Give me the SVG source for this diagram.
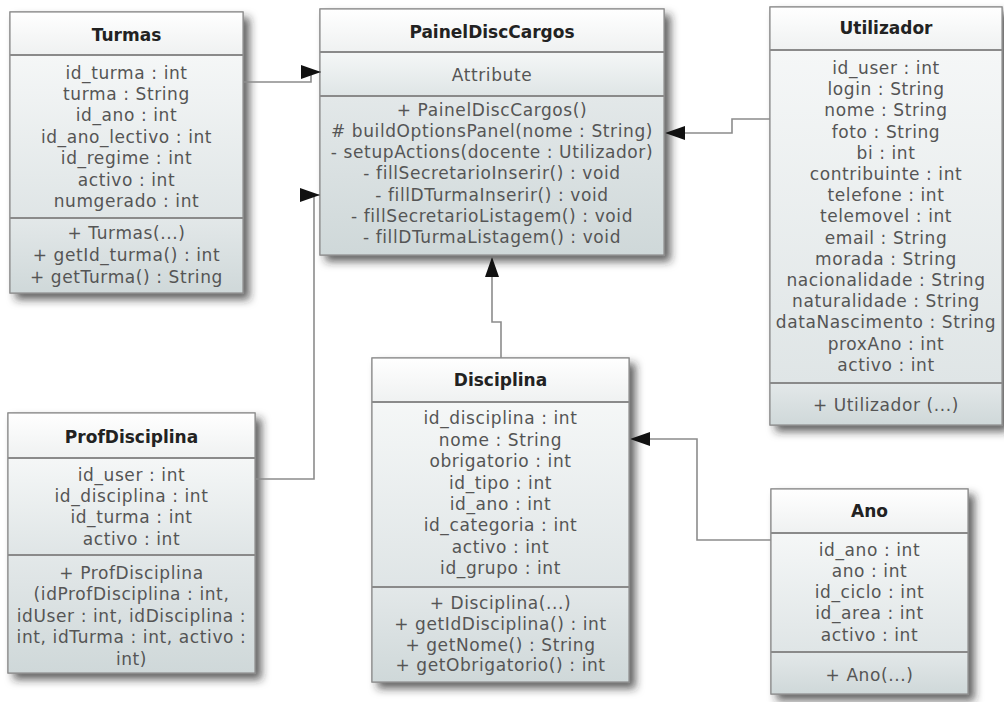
<svg xmlns="http://www.w3.org/2000/svg" width="1004" height="702" viewBox="0 0 1004 702">
  <defs>
    <linearGradient id="gHdr" x1="0" y1="0" x2="0" y2="1">
      <stop offset="0" stop-color="#ffffff"/>
      <stop offset="1" stop-color="#eff1f1"/>
    </linearGradient>
    <linearGradient id="gAttr" x1="0" y1="0" x2="0" y2="1">
      <stop offset="0" stop-color="#f5f7f7"/>
      <stop offset="1" stop-color="#dfe5e6"/>
    </linearGradient>
    <linearGradient id="gOps" x1="0" y1="0" x2="0" y2="1">
      <stop offset="0" stop-color="#e3e8e9"/>
      <stop offset="1" stop-color="#cfd8d9"/>
    </linearGradient>
    <filter id="shadow" x="-10%" y="-10%" width="130%" height="130%">
      <feDropShadow dx="6" dy="6" stdDeviation="4" flood-color="#222" flood-opacity="0.7"/>
    </filter>
    <marker id="arrow" viewBox="0 0 20 14" refX="20" refY="7" markerWidth="20" markerHeight="14" markerUnits="userSpaceOnUse" orient="auto">
      <path d="M0,0 L20,7 L0,14 z" fill="#111"/>
    </marker>
  </defs>
  <style>
    .frame { fill: #ffffff; stroke: #8c8c8c; stroke-width: 1.2; filter: url(#shadow); }
    .hdr { fill: url(#gHdr); }
    .attr { fill: url(#gAttr); }
    .ops { fill: url(#gOps); }
    .edge { fill: none; stroke: #8c8c8c; stroke-width: 1.2; }
    .div { stroke: #8a8a8a; stroke-width: 1.8; }
    .title { font-family: "DejaVu Sans", Verdana, sans-serif; font-weight: bold; font-size: 17px; fill: #222; text-anchor: middle; }
    .mem { font-family: "DejaVu Sans", Verdana, sans-serif; font-size: 17px; fill: #555; text-anchor: middle; letter-spacing: 0.6px; }
    .conn { fill: none; stroke: #8c8c8c; stroke-width: 1.6; marker-end: url(#arrow); }
  </style>
  <rect width="1004" height="702" fill="#ffffff"/>

  <!-- Turmas -->
  <g id="turmas">
    <rect class="frame" x="10" y="12" width="233" height="281"/>
    <rect class="hdr" x="10" y="12" width="233" height="43"/>
    <rect class="attr" x="10" y="55" width="233" height="163"/>
    <rect class="ops" x="10" y="218" width="233" height="75"/>
    <line class="div" x1="10" y1="55" x2="243" y2="55"/>
    <line class="div" x1="10" y1="218" x2="243" y2="218"/>
    <rect class="edge" x="10" y="12" width="233" height="281"/>
    <text class="title" x="126.5" y="41">Turmas</text>
    <text class="mem" x="126.5" y="79">id_turma : int</text>
    <text class="mem" x="126.5" y="100">turma : String</text>
    <text class="mem" x="126.5" y="121">id_ano : int</text>
    <text class="mem" x="126.5" y="143">id_ano_lectivo : int</text>
    <text class="mem" x="126.5" y="164">id_regime : int</text>
    <text class="mem" x="126.5" y="186">activo : int</text>
    <text class="mem" x="126.5" y="207">numgerado : int</text>
    <text class="mem" x="126.5" y="239">+ Turmas(...)</text>
    <text class="mem" x="126.5" y="261">+ getId_turma() : int</text>
    <text class="mem" x="126.5" y="283">+ getTurma() : String</text>
  </g>

  <!-- PainelDiscCargos -->
  <g id="painelDiscCargos">
    <rect class="frame" x="320" y="9" width="344" height="246"/>
    <rect class="hdr" x="320" y="9" width="344" height="43"/>
    <rect class="attr" x="320" y="52" width="344" height="44"/>
    <rect class="ops" x="320" y="96" width="344" height="159"/>
    <line class="div" x1="320" y1="52" x2="664" y2="52"/>
    <line class="div" x1="320" y1="96" x2="664" y2="96"/>
    <rect class="edge" x="320" y="9" width="344" height="246"/>
    <text class="title" x="492" y="38">PainelDiscCargos</text>
    <text class="mem" x="492" y="81">Attribute</text>
    <text class="mem" x="492" y="116">+ PainelDiscCargos()</text>
    <text class="mem" x="492" y="137"># buildOptionsPanel(nome : String)</text>
    <text class="mem" x="492" y="158">- setupActions(docente : Utilizador)</text>
    <text class="mem" x="492" y="179">- fillSecretarioInserir() : void</text>
    <text class="mem" x="492" y="201">- fillDTurmaInserir() : void</text>
    <text class="mem" x="492" y="222">- fillSecretarioListagem() : void</text>
    <text class="mem" x="492" y="243">- fillDTurmaListagem() : void</text>
  </g>

  <!-- Utilizador -->
  <g id="utilizador">
    <rect class="frame" x="770" y="7" width="232" height="418"/>
    <rect class="hdr" x="770" y="7" width="232" height="43"/>
    <rect class="attr" x="770" y="50" width="232" height="333"/>
    <rect class="ops" x="770" y="383" width="232" height="42"/>
    <line class="div" x1="770" y1="50" x2="1002" y2="50"/>
    <line class="div" x1="770" y1="383" x2="1002" y2="383"/>
    <rect class="edge" x="770" y="7" width="232" height="418"/>
    <text class="title" x="886" y="34">Utilizador</text>
    <text class="mem" x="886" y="74">id_user : int</text>
    <text class="mem" x="886" y="95">login : String</text>
    <text class="mem" x="886" y="116">nome : String</text>
    <text class="mem" x="886" y="138">foto : String</text>
    <text class="mem" x="886" y="159">bi : int</text>
    <text class="mem" x="886" y="180">contribuinte : int</text>
    <text class="mem" x="886" y="201">telefone : int</text>
    <text class="mem" x="886" y="222">telemovel : int</text>
    <text class="mem" x="886" y="244">email : String</text>
    <text class="mem" x="886" y="265">morada : String</text>
    <text class="mem" x="886" y="286">nacionalidade : String</text>
    <text class="mem" x="886" y="307">naturalidade : String</text>
    <text class="mem" x="886" y="328">dataNascimento : String</text>
    <text class="mem" x="886" y="350">proxAno : int</text>
    <text class="mem" x="886" y="371">activo : int</text>
    <text class="mem" x="886" y="411">+ Utilizador (...)</text>
  </g>

  <!-- ProfDisciplina -->
  <g id="profDisciplina">
    <rect class="frame" x="8" y="413" width="247" height="260"/>
    <rect class="hdr" x="8" y="413" width="247" height="45"/>
    <rect class="attr" x="8" y="458" width="247" height="97"/>
    <rect class="ops" x="8" y="555" width="247" height="118"/>
    <line class="div" x1="8" y1="458" x2="255" y2="458"/>
    <line class="div" x1="8" y1="555" x2="255" y2="555"/>
    <rect class="edge" x="8" y="413" width="247" height="260"/>
    <text class="title" x="131.5" y="443">ProfDisciplina</text>
    <text class="mem" x="131.5" y="481">id_user : int</text>
    <text class="mem" x="131.5" y="502">id_disciplina : int</text>
    <text class="mem" x="131.5" y="523">id_turma : int</text>
    <text class="mem" x="131.5" y="545">activo : int</text>
    <text class="mem" x="131.5" y="579">+ ProfDisciplina</text>
    <text class="mem" x="131.5" y="600">(idProfDisciplina : int,</text>
    <text class="mem" x="131.5" y="622">idUser : int, idDisciplina :</text>
    <text class="mem" x="131.5" y="643">int, idTurma : int, activo :</text>
    <text class="mem" x="131.5" y="665">int)</text>
  </g>

  <!-- Disciplina -->
  <g id="disciplina">
    <rect class="frame" x="372" y="358" width="257" height="324"/>
    <rect class="hdr" x="372" y="358" width="257" height="44"/>
    <rect class="attr" x="372" y="402" width="257" height="185"/>
    <rect class="ops" x="372" y="587" width="257" height="95"/>
    <line class="div" x1="372" y1="402" x2="629" y2="402"/>
    <line class="div" x1="372" y1="587" x2="629" y2="587"/>
    <rect class="edge" x="372" y="358" width="257" height="324"/>
    <text class="title" x="500.5" y="386">Disciplina</text>
    <text class="mem" x="500.5" y="424">id_disciplina : int</text>
    <text class="mem" x="500.5" y="446">nome : String</text>
    <text class="mem" x="500.5" y="467">obrigatorio : int</text>
    <text class="mem" x="500.5" y="489">id_tipo : int</text>
    <text class="mem" x="500.5" y="510">id_ano : int</text>
    <text class="mem" x="500.5" y="531">id_categoria : int</text>
    <text class="mem" x="500.5" y="553">activo : int</text>
    <text class="mem" x="500.5" y="574">id_grupo : int</text>
    <text class="mem" x="500.5" y="609">+ Disciplina(...)</text>
    <text class="mem" x="500.5" y="630">+ getIdDisciplina() : int</text>
    <text class="mem" x="500.5" y="651">+ getNome() : String</text>
    <text class="mem" x="500.5" y="671">+ getObrigatorio() : int</text>
  </g>

  <!-- Ano -->
  <g id="ano">
    <rect class="frame" x="771" y="489" width="197" height="205"/>
    <rect class="hdr" x="771" y="489" width="197" height="44"/>
    <rect class="attr" x="771" y="533" width="197" height="119"/>
    <rect class="ops" x="771" y="652" width="197" height="42"/>
    <line class="div" x1="771" y1="533" x2="968" y2="533"/>
    <line class="div" x1="771" y1="652" x2="968" y2="652"/>
    <rect class="edge" x="771" y="489" width="197" height="205"/>
    <text class="title" x="869.5" y="517">Ano</text>
    <text class="mem" x="869.5" y="556">id_ano : int</text>
    <text class="mem" x="869.5" y="577">ano : int</text>
    <text class="mem" x="869.5" y="598">id_ciclo : int</text>
    <text class="mem" x="869.5" y="619">id_area : int</text>
    <text class="mem" x="869.5" y="641">activo : int</text>
    <text class="mem" x="869.5" y="681">+ Ano(...)</text>
  </g>

  <!-- associations, arrowheads point at the navigable end -->
  <g id="connectors">
    <path class="conn" d="M243,82 H311 V72 H321"/>
    <path class="conn" d="M255,479 H314 V195 H320"/>
    <path class="conn" d="M770,119 H732 V133 H665"/>
    <path class="conn" d="M501,358 V322 H492 V257"/>
    <path class="conn" d="M771,540 H697 V439 H630"/>
  </g>
</svg>
